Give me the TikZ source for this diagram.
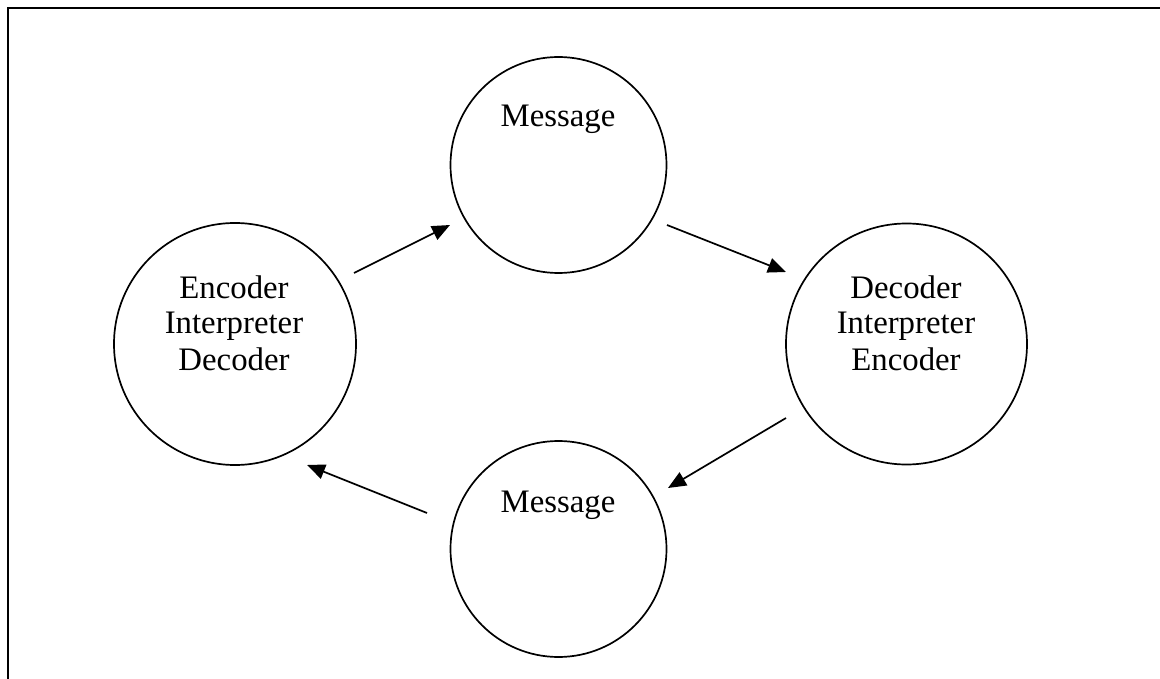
\documentclass[tikz,border=0pt]{standalone}
\usepackage{fontspec}
\setmainfont{Liberation Serif}
\usetikzlibrary{arrows.meta}
\begin{document}
\begin{tikzpicture}[x=1pt,y=-1pt,
  bubble/.style={draw=black, circle, line width=1.7pt, inner sep=0pt},
  lbl/.style={font=\fontsize{32.8}{36}\selectfont, align=center, anchor=base, inner sep=0pt},
  flow/.style={line width=1.7pt, -{Triangle[length=18pt,width=15pt]}},
  frame/.style={line width=2.4pt}]
\useasboundingbox (0,0) rectangle (1160,679);
% frame (top and left only)
\coordinate (f0) at (8,8);
\coordinate (f1) at (1162,8);
\coordinate (f2) at (8,681);
\draw[frame] (f1) -- (f0) -- (f2);
% circles
\node[bubble, minimum size=216pt] (msgtop) at (558.5,165) {};
\node[bubble, minimum size=216pt] (msgbot) at (558.5,549) {};
\node[bubble, minimum size=242pt] (left) at (235,344) {};
\node[bubble, minimum size=241pt] (right) at (906.5,344) {};
% labels
\node[lbl] (tmsgtop) at (558,127) {Message};
\node[lbl] (tmsgbot) at (558,512) {Message};
\node[lbl] (tleft) at (234,370) {Encoder\\Interpreter\\Decoder};
\node[lbl] (tright) at (906,370) {Decoder\\Interpreter\\Encoder};
% arrow end points
\coordinate (a1s) at (354,273); \coordinate (a1e) at (450,225);
\coordinate (a2s) at (667,225); \coordinate (a2e) at (786,272);
\coordinate (a3s) at (786,418); \coordinate (a3e) at (668,488);
\coordinate (a4s) at (427,513); \coordinate (a4e) at (307,465);
\draw[flow] (a1s) -- (a1e);
\draw[flow] (a2s) -- (a2e);
\draw[flow] (a3s) -- (a3e);
\draw[flow] (a4s) -- (a4e);
\end{tikzpicture}
\end{document}
